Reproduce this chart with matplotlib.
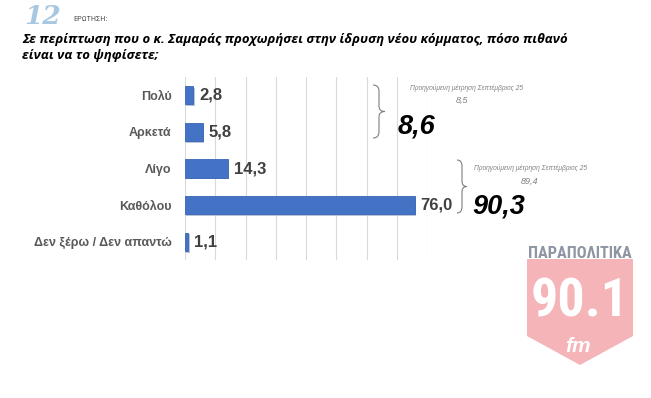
import numpy as np
import matplotlib.pyplot as plt
from matplotlib import font_manager
from matplotlib.path import Path
from matplotlib.patches import PathPatch, Polygon

# data
categories = ['Πολύ', 'Αρκετά', 'Λίγο', 'Καθόλου', 'Δεν ξέρω / Δεν απαντώ']
values = [2.8, 5.8, 14.3, 76.0, 1.1]
groups = [[0, 1], [2, 3]]          # Πολύ+Αρκετά, Λίγο+Καθόλου
previous = [8.5, 89.4]             # previous measurement for each group
prev_label = 'Προηγούμενη μέτρηση Σεπτέμβριος 25'
title_lines = ['Σε περίπτωση που ο κ. Σαμαράς προχωρήσει στην ίδρυση νέου κόμματος, πόσο πιθανό',
               'είναι να το ψηφίσετε;']
q_number = '12'
q_word = 'ΕΡΩΤΗΣΗ:'


def gr(x):
    return f'{x:.1f}'.replace('.', ',')


def pick(names, default='Liberation Sans'):
    avail = {f.name for f in font_manager.fontManager.ttflist}
    for n in names:
        if n in avail:
            return n
    return default


narrow = pick(['Liberation Sans Narrow', 'DejaVu Sans Condensed', 'Roboto Condensed'])

W, H = 651, 398
fig = plt.figure(figsize=(W / 100, H / 100), dpi=100)
renderer = fig.canvas.get_renderer()


def fit_width(t, target):
    w = t.get_window_extent(renderer=renderer).width
    t.set_fontsize(t.get_fontsize() * target / w)


# overlay in pixel coords for header / notes / logo
ov = fig.add_axes([0, 0, 1, 1], zorder=0)
ov.set_xlim(0, W)
ov.set_ylim(H, 0)
ov.axis('off')

# main bar chart
L, T, R, B = 185, 77, 427, 260
ax = fig.add_axes([L / W, 1 - B / H, (R - L) / W, (B - T) / H], zorder=1)
ax.patch.set_alpha(0)

y = np.arange(len(categories))
# soft shadow then the bars
ax.barh(y + 0.05, values, height=0.5, left=0.4, color='#B8C4D8', linewidth=0, zorder=2)
ax.barh(y, values, height=0.5, color='#4472C4', edgecolor='#3A64B4', linewidth=0.6, zorder=3)
ax.set_xlim(0, 80)
ax.set_ylim(len(categories) - 0.5, -0.5)
ax.set_xticks(np.arange(0, 81, 10))
ax.set_xticklabels([])
ax.grid(axis='x', color='#D9D9D9', lw=0.8)
ax.set_axisbelow(True)
for s in ax.spines.values():
    s.set_visible(False)
ax.tick_params(length=0, pad=9.5)
ax.set_yticks(y)
ax.set_yticklabels(categories, fontsize=9, fontweight='bold', color='#595959',
                   family='Liberation Sans')

for i, v in enumerate(values):
    ax.annotate(gr(v), (v, i), xytext=(4, 0), textcoords='offset points',
                va='center', ha='left', fontsize=12, fontweight='bold',
                color='#404040', family='Liberation Sans')


def brace(x0, x1, y0, y1):
    xm = (x0 + x1) / 2
    ym = (y0 + y1) / 2
    h = y1 - y0
    verts = [(x0, y0), (xm, y0), (xm, y0 + 0.12 * h), (xm, ym - 0.1 * h),
             (xm, ym), (x1, ym), (xm, ym), (xm, ym + 0.1 * h),
             (xm, y1 - 0.12 * h), (xm, y1), (x0, y1)]
    codes = [Path.MOVETO, Path.CURVE3, Path.CURVE3, Path.LINETO,
             Path.CURVE3, Path.CURVE3, Path.CURVE3, Path.CURVE3,
             Path.LINETO, Path.CURVE3, Path.CURVE3]
    ov.add_patch(PathPatch(Path(verts, codes), fc='none', ec='#7F7F7F', lw=0.8))


# group sums with braces
sums = [sum(values[i] for i in g) for g in groups]
brace(373, 385, 85, 138)
brace(457, 467, 160, 213)
ov.text(398, 126, gr(sums[0]), fontsize=19.5, fontweight='bold', style='italic',
        va='center', ha='left', color='black', family='Liberation Sans')
ov.text(472, 207, gr(sums[1]), fontsize=19.5, fontweight='bold', style='italic',
        va='center', ha='left', color='black', family='Liberation Sans')
ov.text(467, 88, prev_label, fontsize=4.8, style='italic', color='#808080',
        ha='center', va='center', family='Liberation Sans')
ov.text(462, 100, gr(previous[0]), fontsize=6.5, style='italic', color='#808080',
        ha='center', va='center', family='Liberation Sans')
ov.text(530, 168, prev_label, fontsize=4.8, style='italic', color='#808080',
        ha='center', va='center', family='Liberation Sans')
ov.text(530, 181, gr(previous[1]), fontsize=6.5, style='italic', color='#808080',
        ha='center', va='center', family='Liberation Sans')

# header
ov.text(24, 17, q_number, fontsize=19, fontweight='heavy', style='italic',
        color='#A8C8E2', va='center', ha='left', family='DejaVu Serif')
t = ov.text(73, 19, q_word, fontsize=5, color='#555555', va='center', ha='left', family=narrow)
fit_width(t, 34)
t1 = ov.text(22, 39, title_lines[0], fontsize=10, fontweight='bold', style='italic',
             va='center', ha='left', color='black', family='Open Sans')
fit_width(t1, 543)
ov.text(22, 55, title_lines[1], fontsize=t1.get_fontsize(), fontweight='bold', style='italic',
        va='center', ha='left', color='black', family='Open Sans')

# radio logo
ov.add_patch(Polygon([(527, 259), (633, 259), (633, 336), (580, 365), (527, 336)],
                     closed=True, fc='#F4B4B8', ec='none'))
t = ov.text(580, 254, 'ΠΑΡΑΠΟΛΙΤΙΚΑ', ha='center', va='center', fontsize=9.5,
            fontweight='bold', color='#8E95A3', family=narrow)
fit_width(t, 104)
t = ov.text(580, 302, '90.1', ha='center', va='center', fontsize=30,
            fontweight='bold', color='white', family=narrow)
fit_width(t, 98)
ov.text(578, 347, 'fm', ha='center', va='center', fontsize=15, fontweight='bold',
        style='italic', color='white', family='Liberation Sans')

fig.savefig('out.png', dpi=100)
